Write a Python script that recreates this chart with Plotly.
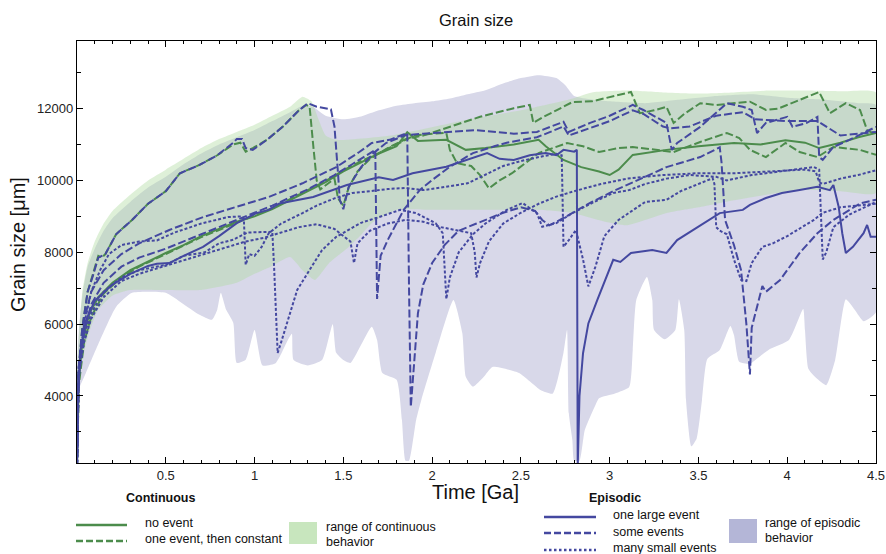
import plotly.graph_objects as go

# ---------------- data (time in Ga, grain size in micrometres) ----------------
episodic_upper = [(0, 4800), (0.01, 5800), (0.03, 6800), (0.06, 7600), (0.1, 8100), (0.15, 8600),
                  (0.2, 8950), (0.3, 9400), (0.4, 9800), (0.5, 10100), (0.6, 10450), (0.7, 10750),
                  (0.8, 11000), (0.9, 11200), (1.0, 11400), (1.1, 11650), (1.2, 11900), (1.28, 12100),
                  (1.33, 12040), (1.4, 11800), (1.5, 11700), (1.6, 11780), (1.7, 11950), (1.8, 12080),
                  (1.9, 12150), (2.0, 12200), (2.1, 12280), (2.2, 12400), (2.3, 12510), (2.4, 12700),
                  (2.5, 12850), (2.6, 12930), (2.7, 12850), (2.75, 12650), (2.8, 12350), (2.9, 12250),
                  (3.0, 12200), (3.2, 12150), (3.4, 12250), (3.6, 12350), (3.8, 12400), (4.0, 12300),
                  (4.2, 12250), (4.4, 12150), (4.5, 12100)]
episodic_lower = [(0, 3500), (0.003, 4090), (0.05, 4640), (0.13, 5560), (0.22, 6480), (0.31, 6870),
                  (0.5, 6870), (0.59, 6590), (0.69, 6260), (0.76, 6120), (0.79, 6400), (0.81, 6870),
                  (0.84, 6400), (0.88, 6040), (0.9, 4920), (0.95, 5010), (1.0, 5840), (1.045, 4850),
                  (1.12, 4920), (1.18, 5480), (1.21, 5730), (1.22, 5000), (1.3, 4850), (1.38, 5000),
                  (1.44, 6000), (1.46, 5200), (1.5, 5000), (1.54, 4920), (1.66, 5930), (1.69, 5560),
                  (1.72, 4640), (1.8, 4450), (1.83, 3330), (1.85, 2200), (1.87, 2200), (1.91, 3330),
                  (1.94, 3900), (2.02, 5200), (2.12, 6670), (2.17, 5750), (2.19, 4530), (2.23, 4260),
                  (2.29, 4530), (2.34, 4810), (2.49, 4640), (2.61, 4170), (2.68, 4070), (2.74, 5200),
                  (2.76, 5840), (2.77, 3520), (2.79, 2770), (2.8, 2200), (2.83, 2200), (2.86, 3050),
                  (2.92, 3750), (2.94, 3940), (3.03, 4070), (3.11, 4250), (3.13, 5280), (3.15, 6670),
                  (3.21, 7310), (3.24, 6670), (3.25, 5840), (3.31, 5580), (3.37, 5840), (3.39, 6690),
                  (3.42, 5840), (3.43, 3890), (3.46, 2600), (3.49, 2820), (3.52, 3890), (3.55, 5030),
                  (3.62, 5280), (3.68, 5950), (3.7, 5700), (3.73, 4950), (3.79, 4890), (3.82, 5000),
                  (3.9, 5300), (4.01, 5560), (4.09, 6420), (4.1, 5840), (4.12, 4750), (4.17, 4470),
                  (4.22, 4300), (4.27, 5000), (4.33, 6690), (4.38, 6400), (4.43, 6080), (4.5, 6330)]
continuous_upper = [(0, 4500), (0.01, 5600), (0.03, 6900), (0.06, 7700), (0.1, 8300), (0.15, 8800),
                    (0.2, 9150), (0.3, 9600), (0.4, 10000), (0.5, 10300), (0.6, 10600), (0.7, 10900),
                    (0.8, 11150), (0.9, 11350), (1.0, 11550), (1.1, 11800), (1.2, 12050), (1.27, 12330),
                    (1.32, 12200), (1.36, 11700), (1.4, 11250), (1.46, 11130), (1.78, 11260),
                    (2.19, 11680), (2.5, 11950), (2.77, 12250), (2.9, 12450), (3.1, 12500), (3.3, 12450),
                    (3.5, 12420), (3.7, 12450), (3.9, 12500), (4.1, 12500), (4.3, 12480), (4.5, 12450)]
continuous_lower = [(0, 3700), (0.01, 4300), (0.03, 5000), (0.07, 5800), (0.12, 6400), (0.2, 6800),
                    (0.3, 6950), (0.5, 6950), (0.7, 6950), (0.9, 7150), (1.0, 7400), (1.09, 7600),
                    (1.2, 7870), (1.27, 7500), (1.34, 7230), (1.42, 7700), (1.53, 8150), (1.59, 8430),
                    (1.66, 8810), (1.8, 9180), (2.0, 9180), (2.2, 9180), (2.4, 9180), (2.6, 9180),
                    (2.79, 9090), (2.98, 8840), (3.1, 8750), (3.32, 9090), (3.5, 9250), (3.7, 9450),
                    (4.07, 9730), (4.3, 9700), (4.5, 9650)]

# Continuous, no event (solid green)
no_event = [(0, 2000), (0.01, 4400), (0.03, 5500), (0.07, 6300), (0.12, 6750), (0.2, 7150), (0.3, 7500),
            (0.4, 7750), (0.5, 7980), (0.6, 8200), (0.7, 8450), (0.8, 8650), (0.9, 8850), (1.0, 9000),
            (1.1, 9200), (1.2, 9450), (1.3, 9700), (1.4, 9950), (1.5, 10250), (1.6, 10500), (1.7, 10750),
            (1.8, 10950), (1.86, 11340), (1.92, 11100), (2.08, 11130), (2.19, 10850), (2.3, 10900),
            (2.46, 11000), (2.6, 11130), (2.64, 10950), (2.74, 10570), (2.84, 10370), (2.94, 10250),
            (3.0, 10150), (3.05, 10300), (3.13, 10710), (3.32, 10850), (3.5, 10950), (3.7, 11040),
            (3.85, 11000), (3.99, 11120), (4.1, 11050), (4.18, 10900), (4.3, 11050), (4.4, 11200),
            (4.5, 11320)]
# Continuous, one event then constant (dashed green)
one_event_a = [(0, 2000), (0.008, 4600), (0.03, 5900), (0.06, 6900), (0.09, 7400), (0.12, 7900),
               (0.14, 7850), (0.16, 7950), (0.22, 8500), (0.31, 8900), (0.4, 9350), (0.5, 9700),
               (0.58, 10200), (0.69, 10430), (0.79, 10700), (0.88, 11000), (0.92, 11050), (0.95, 10800),
               (0.99, 10900), (1.07, 11130), (1.16, 11500), (1.25, 11950), (1.29, 12100), (1.31, 12050),
               (1.33, 11000), (1.35, 10000), (1.37, 9750), (1.41, 9900), (1.45, 10050), (1.47, 9500),
               (1.5, 9300), (1.53, 9800), (1.58, 10250), (1.65, 10600), (1.75, 10900), (1.85, 11150),
               (1.95, 11250), (2.08, 11460), (2.27, 11770), (2.46, 12010), (2.55, 12100), (2.57, 11600),
               (2.62, 11750), (2.7, 11950), (2.79, 12180), (2.9, 12200), (3.0, 12320), (3.12, 12460),
               (3.17, 11870), (3.25, 11950), (3.32, 12050), (3.36, 11600), (3.42, 11850), (3.51, 12150),
               (3.6, 12100), (3.7, 12150), (3.79, 12190), (3.88, 11960), (3.95, 12000), (4.05, 12200),
               (4.18, 12460), (4.24, 11870), (4.33, 12150), (4.41, 11960), (4.45, 11400), (4.5, 11260)]
one_event_b = [(0, 2000), (0.01, 4300), (0.04, 5500), (0.08, 6200), (0.15, 6850), (0.25, 7300),
               (0.35, 7600), (0.5, 7950), (0.6, 8180), (0.7, 8420), (0.8, 8620), (0.9, 8820), (1.0, 9030),
               (1.1, 9230), (1.2, 9480), (1.3, 9720), (1.4, 9980), (1.5, 10280), (1.6, 10540),
               (1.7, 10760), (1.8, 11000), (1.9, 11250), (2.0, 11300), (2.08, 11320), (2.1, 10850),
               (2.14, 10480), (2.22, 10400), (2.27, 10150), (2.32, 9780), (2.38, 10000), (2.45, 10200),
               (2.6, 10760), (2.76, 11040), (2.85, 10950), (2.94, 10790), (3.05, 10900), (3.13, 10930),
               (3.25, 10850), (3.36, 10790), (3.51, 11070), (3.66, 11320), (3.73, 11180), (3.79, 10850),
               (3.88, 10650), (3.99, 11040), (4.07, 10790), (4.17, 10650), (4.26, 10930), (4.41, 10850),
               (4.5, 10710)]
# Episodic, one large event (solid blue)
large_event = [(0, 2000), (0.005, 4000), (0.02, 5300), (0.05, 6100), (0.1, 6650), (0.2, 7100),
               (0.3, 7400), (0.4, 7620), (0.45, 7680), (0.52, 7700), (0.6, 7900), (0.71, 8150),
               (0.8, 8450), (0.9, 8810), (1.01, 9090), (1.08, 9180), (1.14, 9360), (1.33, 9540),
               (1.52, 9870), (1.7, 10090), (1.78, 10010), (1.89, 10200), (2.08, 10380), (2.19, 10570),
               (2.31, 10760), (2.38, 10600), (2.46, 10570), (2.55, 10700), (2.64, 10760), (2.7, 10700),
               (2.74, 10850), (2.8, 10800), (2.815, 10850), (2.82, 2000), (2.83, 4000), (2.85, 5190),
               (2.88, 6020), (2.93, 6670), (2.98, 7310), (3.02, 7790), (3.06, 7730), (3.12, 7980),
               (3.24, 8060), (3.32, 7980), (3.38, 8340), (3.47, 8620), (3.56, 8900), (3.62, 9090),
               (3.75, 9180), (3.79, 9320), (3.88, 9510), (3.97, 9650), (4.07, 9730), (4.17, 9820),
               (4.24, 9730), (4.26, 9870), (4.29, 9260), (4.31, 8530), (4.33, 7980), (4.37, 8150),
               (4.43, 8530), (4.45, 8760), (4.47, 8430), (4.5, 8430)]
# Episodic, some events (dashed blue)
some_events_a = [(0, 2000), (0.008, 4700), (0.03, 5900), (0.06, 6900), (0.09, 7350), (0.12, 7850),
                 (0.16, 7950), (0.22, 8500), (0.31, 8900), (0.4, 9350), (0.5, 9700), (0.58, 10200),
                 (0.69, 10430), (0.79, 10700), (0.88, 11050), (0.9, 11150), (0.93, 11150), (0.95, 10900),
                 (0.99, 10850), (1.07, 11130), (1.16, 11500), (1.25, 11950), (1.3, 12150), (1.35, 12050),
                 (1.43, 11980), (1.45, 11500), (1.47, 10200), (1.48, 9460), (1.5, 9200), (1.53, 9820),
                 (1.6, 10370), (1.67, 10760), (1.74, 11040), (1.85, 11260), (1.95, 11300), (2.1, 11350),
                 (2.25, 11400), (2.46, 11300), (2.59, 11350), (2.74, 11630), (2.77, 11350), (2.89, 11600),
                 (3.0, 11800), (3.13, 12100), (3.19, 11960), (3.32, 11600), (3.35, 10850), (3.38, 11040),
                 (3.51, 11490), (3.66, 12150), (3.75, 12050), (3.8, 11960), (3.83, 11320), (3.88, 11600),
                 (4.0, 11770), (4.03, 11490), (4.11, 11600), (4.17, 11770), (4.18, 10650), (4.2, 10570),
                 (4.26, 10930), (4.35, 11130), (4.5, 11490)]
some_events_b = [(0, 2000), (0.01, 4800), (0.04, 6100), (0.08, 6900), (0.15, 7500), (0.25, 7950),
                 (0.35, 8250), (0.52, 8620), (0.71, 8980), (0.9, 9260), (1.08, 9540), (1.27, 9920),
                 (1.46, 10370), (1.59, 10790), (1.66, 11040), (1.76, 11130), (1.86, 11320), (1.87, 7000),
                 (1.88, 3700), (1.9, 5000), (1.92, 6300), (1.95, 7100), (2.0, 7700), (2.07, 8200),
                 (2.15, 8600), (2.25, 8800), (2.4, 9100), (2.5, 9250), (2.58, 9150), (2.62, 8900),
                 (2.66, 8750), (2.72, 8900), (2.79, 9100), (2.9, 9400), (3.02, 9700), (3.2, 10100),
                 (3.32, 10370), (3.51, 10650), (3.62, 10920), (3.63, 10500), (3.65, 8900), (3.7, 8200),
                 (3.74, 7500), (3.77, 6000), (3.79, 4600), (3.8, 5900), (3.86, 7060), (3.88, 6900),
                 (3.96, 7230), (4.07, 7980), (4.17, 8530), (4.26, 8900), (4.41, 9360), (4.5, 9460)]
some_events_c = [(0, 2000), (0.01, 4500), (0.04, 5800), (0.08, 6550), (0.15, 7150), (0.25, 7600),
                 (0.35, 7850), (0.5, 8100), (0.7, 8500), (0.9, 8900), (1.1, 9300), (1.3, 9750),
                 (1.45, 10150), (1.55, 10450), (1.65, 10750), (1.68, 10850), (1.69, 6700), (1.71, 7900),
                 (1.75, 8340), (1.84, 9180), (1.93, 9730), (2.0, 10010), (2.1, 10380), (2.23, 10760),
                 (2.35, 10950), (2.42, 11050), (2.59, 11200), (2.74, 11500), (2.77, 11250), (2.89, 11450),
                 (3.0, 11650), (3.13, 11950), (3.19, 11850), (3.3, 11500), (3.34, 11450), (3.45, 11500),
                 (3.6, 11800), (3.75, 11900), (3.82, 11700), (4.0, 11650), (4.17, 11650), (4.3, 11250),
                 (4.5, 11350)]
# Episodic, many small events (dotted blue)
small_events_a = [(0, 2000), (0.01, 4800), (0.04, 6000), (0.08, 6900), (0.13, 7500), (0.18, 7950),
                  (0.25, 8200), (0.35, 8300), (0.45, 8330), (0.55, 8550), (0.7, 8800), (0.85, 8980),
                  (0.93, 9000), (0.94, 8900), (0.95, 7650), (0.97, 7950), (1.0, 7900), (1.04, 8150),
                  (1.08, 8530), (1.15, 8800), (1.27, 9090), (1.35, 9300), (1.45, 9500), (1.55, 9650),
                  (1.65, 9700), (1.75, 9760), (1.85, 9790), (1.95, 9730), (2.05, 9800), (2.2, 9920),
                  (2.4, 10400), (2.5, 10540), (2.63, 10680), (2.7, 10740), (2.73, 10700), (2.74, 8150),
                  (2.77, 8340), (2.81, 8620), (2.85, 7800), (2.88, 7050), (2.92, 7600), (2.97, 8450),
                  (3.05, 8900), (3.13, 9180), (3.2, 9400), (3.32, 9460), (3.4, 9700), (3.51, 9920),
                  (3.58, 10060), (3.59, 9900), (3.6, 8700), (3.62, 8600), (3.66, 8500), (3.7, 7800),
                  (3.74, 7230), (3.77, 7200), (3.8, 7700), (3.86, 8150), (3.92, 8250), (4.0, 8450),
                  (4.08, 8700), (4.15, 8900), (4.2, 9100), (4.3, 9250), (4.4, 9300), (4.5, 9350)]
small_events_b = [(0, 2000), (0.01, 4700), (0.04, 5700), (0.08, 6300), (0.15, 6900), (0.25, 7300),
                  (0.35, 7500), (0.45, 7600), (0.5, 7650), (0.6, 7900), (0.65, 7950), (0.72, 8000),
                  (0.8, 8250), (0.88, 8350), (0.96, 8550), (1.05, 8550), (1.1, 8570), (1.11, 7600),
                  (1.12, 6400), (1.13, 5200), (1.15, 5500), (1.2, 6300), (1.24, 6950), (1.31, 7510),
                  (1.38, 8060), (1.46, 8430), (1.52, 8600), (1.6, 8820), (1.72, 9010), (1.82, 9180),
                  (1.91, 9090), (2.02, 8810), (2.06, 8530), (2.07, 7500), (2.08, 6700), (2.1, 7300),
                  (2.15, 8000), (2.23, 8500), (2.3, 8800), (2.42, 9180), (2.51, 9370), (2.59, 9090),
                  (2.62, 8710), (2.7, 8810), (2.79, 9090), (2.9, 9370), (3.02, 9650), (3.11, 9730),
                  (3.2, 9900), (3.32, 10050), (3.45, 10150), (3.6, 10100), (3.66, 10000), (3.8, 10150),
                  (3.95, 10250), (4.05, 10300), (4.15, 10370), (4.18, 10300), (4.19, 9000), (4.2, 7800),
                  (4.22, 8000), (4.26, 8700), (4.35, 9050), (4.5, 9400)]
small_events_c = [(0, 2000), (0.01, 4600), (0.04, 5500), (0.08, 6150), (0.15, 6750), (0.25, 7200),
                  (0.35, 7400), (0.45, 7550), (0.55, 7700), (0.65, 7850), (0.75, 8000), (0.85, 8150),
                  (0.95, 8300), (1.05, 8400), (1.15, 8550), (1.25, 8700), (1.35, 8780), (1.45, 8650),
                  (1.5, 8450), (1.54, 8300), (1.56, 7700), (1.58, 8250), (1.65, 8600), (1.75, 8800),
                  (1.85, 8900), (1.95, 8850), (2.05, 8700), (2.15, 8600), (2.22, 8530), (2.24, 8000),
                  (2.25, 7300), (2.27, 7700), (2.32, 8300), (2.4, 8800), (2.5, 9100), (2.6, 9350),
                  (2.7, 9550), (2.8, 9700), (2.95, 9900), (3.1, 10050), (3.3, 10150), (3.5, 10200),
                  (3.7, 10200), (3.9, 10250), (4.1, 10300), (4.16, 10250), (4.18, 9950), (4.2, 9900),
                  (4.3, 10050), (4.4, 10150), (4.5, 10280)]

x_tick_values = [0.5, 1, 1.5, 2, 2.5, 3, 3.5, 4, 4.5]
x_tick_labels = ["0.5", "1", "1.5", "2", "2.5", "3", "3.5", "4", "4.5"]
y_tick_values = [4000, 6000, 8000, 10000, 12000]
y_tick_labels = ["4000", "6000", "8000", "10000", "12000"]

# ---------------- styling ----------------
FONT = "Liberation Sans, Arial, sans-serif"
GREEN = "#4c8c4c"
BLUE = "#4448a0"
PURPLE_FILL = "rgb(216,216,233)"
GREEN_FILL = "rgba(175,218,160,0.41)"
DASH = "8px,3px"
DOT = "3px,2px"

W, H = 886, 554
ML, MR, MT, MB = 77, 10, 41, 91
PW, PH = W - ML - MR, H - MT - MB


def px(x):
    return (x - ML) / PW


def py(y):
    return (H - MB - y) / PH


def band(upper, lower):
    xs = [p[0] for p in upper] + [p[0] for p in reversed(lower)]
    ys = [p[1] for p in upper] + [p[1] for p in reversed(lower)]
    return xs, ys


fig = go.Figure()
for (upper, lower, color) in [(episodic_upper, episodic_lower, PURPLE_FILL),
                              (continuous_upper, continuous_lower, GREEN_FILL)]:
    xs, ys = band(upper, lower)
    fig.add_trace(go.Scatter(x=xs, y=ys, fill="toself", fillcolor=color, mode="lines",
                             line=dict(width=0, color=color, shape="spline", smoothing=0.5),
                             hoverinfo="skip"))

series = [
    (no_event, GREEN, "solid"),
    (one_event_b, GREEN, DASH),
    (one_event_a, GREEN, DASH),
    (large_event, BLUE, "solid"),
    (some_events_b, BLUE, DASH),
    (some_events_c, BLUE, DASH),
    (some_events_a, BLUE, DASH),
    (small_events_c, BLUE, DOT),
    (small_events_b, BLUE, DOT),
    (small_events_a, BLUE, DOT),
]
for data, color, dash in series:
    fig.add_trace(go.Scatter(x=[p[0] for p in data], y=[p[1] for p in data], mode="lines",
                             line=dict(color=color, width=2, dash=dash)))

axis_common = dict(showline=True, linecolor="black", linewidth=1.3, mirror="allticks",
                   ticks="inside", ticklen=6, tickcolor="black", showgrid=False, zeroline=False,
                   automargin=False, tickfont=dict(family=FONT, size=13, color="#222"))
fig.update_xaxes(range=[0, 4.5], tickvals=x_tick_values, ticktext=x_tick_labels,
                 minor=dict(dtick=0.1, tick0=0, ticklen=3, ticks="inside", tickcolor="black"),
                 **axis_common)
fig.update_yaxes(range=[2135, 13880], tickvals=y_tick_values, ticktext=y_tick_labels,
                 minor=dict(dtick=1000, tick0=0, ticklen=4, ticks="inside", tickcolor="black"),
                 **axis_common)

annotations = [
    dict(text="Grain size", x=px(476), y=py(20), size=16.5),
    dict(text="Time [Ga]", x=px(475), y=py(492), size=20),
    dict(text="<b>Continuous</b>", x=px(160), y=py(498), size=12.5),
    dict(text="<b>Episodic</b>", x=px(615), y=py(498), size=12.5),
]
ann_objs = []
for a in annotations:
    ann_objs.append(dict(text=a["text"], x=a["x"], y=a["y"], xref="paper", yref="paper",
                         xanchor="center", yanchor="middle", showarrow=False,
                         font=dict(family=FONT, size=a["size"], color="#111")))
ann_objs.append(dict(text="Grain size [μm]", x=px(18), y=py(245), xref="paper", yref="paper",
                     xanchor="center", yanchor="middle", showarrow=False, textangle=-90,
                     font=dict(family=FONT, size=20, color="#111")))

legend_texts = [
    ("no event", 143, 523), ("one event, then constant", 143, 539),
    ("range of continuous", 324, 527), ("behavior", 324, 542),
    ("one large event", 611, 515), ("some events", 611, 532), ("many small events", 611, 548),
    ("range of episodic", 763, 523), ("behavior", 763, 538),
]
for t, x0, y0 in legend_texts:
    ann_objs.append(dict(text=t, x=px(x0), y=py(y0), xref="paper", yref="paper",
                         xanchor="left", yanchor="middle", showarrow=False,
                         font=dict(family=FONT, size=12.5, color="#111")))

shapes = []
legend_lines = [(76, 127, 525, GREEN, "solid"), (76, 127, 541, GREEN, "7px,3px"),
                (544, 596, 517, BLUE, "solid"), (544, 596, 533, BLUE, "7px,3px"),
                (544, 596, 550, BLUE, "2.5px,2.5px")]
for x0, x1, y0, c, d in legend_lines:
    shapes.append(dict(type="line", xref="paper", yref="paper", x0=px(x0), x1=px(x1),
                       y0=py(y0), y1=py(y0), line=dict(color=c, width=2.5, dash=d)))
shapes.append(dict(type="rect", xref="paper", yref="paper", x0=px(289), x1=px(317),
                   y0=py(544), y1=py(522), fillcolor="rgb(200,230,190)", line=dict(width=0)))
shapes.append(dict(type="rect", xref="paper", yref="paper", x0=px(729), x1=px(757),
                   y0=py(543), y1=py(519), fillcolor="rgb(180,182,215)", line=dict(width=0)))

fig.update_layout(template="none", width=W, height=H, margin=dict(l=ML, r=MR, t=MT, b=MB),
                  paper_bgcolor="white", plot_bgcolor="white", showlegend=False,
                  font=dict(family=FONT), annotations=ann_objs, shapes=shapes)

fig.write_html("out.html")
